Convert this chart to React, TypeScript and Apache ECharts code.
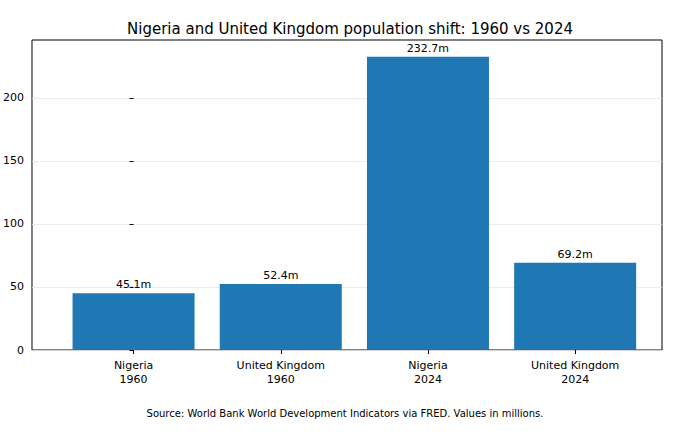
import React, { useEffect, useRef } from 'react';
import * as echarts from 'echarts';

const categories = ['Nigeria\n1960', 'United Kingdom\n1960', 'Nigeria\n2024', 'United Kingdom\n2024'];
const values = [45.1, 52.4, 232.7, 69.2];
const yTicks = [0, 50, 100, 150, 200];

const App = () => {
  const chartRef = useRef<HTMLDivElement>(null);

  useEffect(() => {
    const chart = echarts.init(chartRef.current, null, { renderer: 'svg' });
    const font = 'DejaVu Sans';
    chart.setOption({
      animation: false,
      textStyle: { fontFamily: font },
      title: {
        text: 'Nigeria and United Kingdom population shift: 1960 vs 2024',
        left: 345, top: 16, textAlign: 'center',
        textStyle: { fontSize: 15, fontWeight: 'normal', color: '#000', fontFamily: font },
      },
      graphic: [{
        type: 'text', left: 'center', top: 408,
        style: { text: 'Source: World Bank World Development Indicators via FRED. Values in millions.', fontSize: 10, fill: '#000', fontFamily: font },
      }],
      grid: { left: 12, right: 28, top: 40, bottom: 88, show: true, borderColor: '#000', borderWidth: 1 },
      xAxis: {
        type: 'value', min: -0.69, max: 3.59,
        splitLine: { show: false },
        axisLine: { show: false },
        axisTick: { show: true, customValues: [0, 1, 2, 3], length: 4, lineStyle: { color: '#000' } },
        axisLabel: {
          customValues: [0, 1, 2, 3], color: '#000', fontSize: 11, lineHeight: 14, margin: 8,
          formatter: (v: number) => categories[Math.round(v)] ?? '',
        },
      },
      yAxis: {
        type: 'value', min: 0, max: 246, interval: 50,
        axisLine: { show: false },
        axisTick: { show: true, customValues: yTicks, length: 4, lineStyle: { color: '#000' } },
        axisLabel: { customValues: yTicks, color: '#000', fontSize: 11 },
        splitLine: { show: true, lineStyle: { color: '#e6e6e6', width: 0.8 } },
      },
      series: [{
        type: 'bar', barWidth: 122,
        data: values.map((v, i) => [i, v]),
        itemStyle: { color: '#1f77b4' },
        label: {
          show: true, position: 'top', distance: 3, color: '#000', fontSize: 11,
          formatter: (p: any) => p.value[1].toFixed(1) + 'm',
        },
      }],
    });
    return () => chart.dispose();
  }, []);

  return <div ref={chartRef} style={{ position: 'absolute', left: 0, top: 0, width: 690, height: 438, background: '#fff' }} />;
};

export default App;
